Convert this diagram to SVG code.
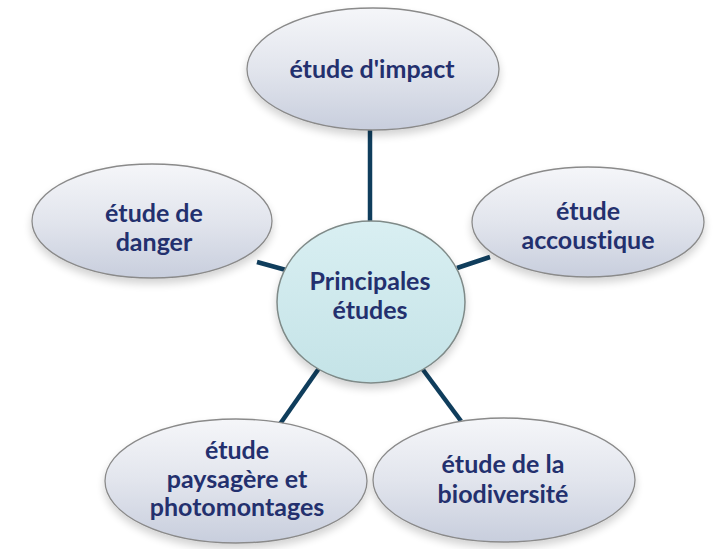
<svg xmlns="http://www.w3.org/2000/svg" width="715" height="549" viewBox="0 0 715 549">
<defs>
<linearGradient id="gOuter" x1="0" y1="0" x2="0" y2="1">
<stop offset="0" stop-color="#f5f6f9"/>
<stop offset="0.5" stop-color="#e2e5ed"/>
<stop offset="1" stop-color="#c8cedd"/>
</linearGradient>
<linearGradient id="gCenter" x1="0" y1="0" x2="0" y2="1">
<stop offset="0" stop-color="#d9eff2"/>
<stop offset="1" stop-color="#c4e3e7"/>
</linearGradient>
<filter id="sh" x="-20%" y="-20%" width="140%" height="150%">
<feGaussianBlur in="SourceAlpha" stdDeviation="4"/>
<feOffset dx="0" dy="5" result="b"/>
<feComponentTransfer><feFuncA type="linear" slope="0.18"/></feComponentTransfer>
<feMerge><feMergeNode/><feMergeNode in="SourceGraphic"/></feMerge>
</filter>
</defs>
<style>
.outer{fill:url(#gOuter);stroke:#8a8a8a;stroke-width:1.3;filter:url(#sh)}
.center{fill:url(#gCenter);stroke:#7f8a88;stroke-width:1.5;filter:url(#sh)}
.lbl{font-family:Lato,"Open Sans","Liberation Sans",sans-serif;font-weight:bold;font-size:25px;fill:#23306e;text-anchor:middle;font-variant-ligatures:none;font-feature-settings:"liga" 0}
.conn{stroke:#0f3d5c;stroke-width:4.5;stroke-linecap:butt;fill:none}
</style>
<rect width="715" height="549" fill="#ffffff"/>
<g id="connectors">
<line class="conn" x1="370" y1="130" x2="370" y2="223"/>
<line class="conn" x1="257" y1="262" x2="286" y2="270"/>
<line class="conn" x1="457" y1="268" x2="490" y2="257"/>
<line class="conn" x1="322" y1="364" x2="280" y2="424"/>
<line class="conn" x1="418" y1="363" x2="461" y2="421"/>
</g>
<g id="node-impact">
<ellipse class="outer" cx="373" cy="69" rx="126" ry="61"/>
<text class="lbl" x="372" y="78">étude d'impact</text>
</g>
<g id="node-danger">
<ellipse class="outer" cx="152" cy="221" rx="120" ry="57"/>
<text class="lbl" x="154" y="222">étude de</text>
<text class="lbl" x="154" y="251">danger</text>
</g>
<g id="node-acoustique">
<ellipse class="outer" cx="588" cy="222" rx="116" ry="55"/>
<text class="lbl" x="588" y="220">étude</text>
<text class="lbl" x="588" y="249">accoustique</text>
</g>
<g id="node-paysage">
<ellipse class="outer" cx="236" cy="481" rx="131" ry="62"/>
<text class="lbl" x="237" y="459">étude</text>
<text class="lbl" x="237" y="488">paysagère et</text>
<text class="lbl" x="237" y="516">photomontages</text>
</g>
<g id="node-biodiversite">
<ellipse class="outer" cx="504" cy="480" rx="131" ry="62"/>
<text class="lbl" x="503" y="473">étude de la</text>
<text class="lbl" x="503" y="503">biodiversité</text>
</g>
<g id="node-center">
<ellipse class="center" cx="371" cy="302" rx="94" ry="81"/>
<text class="lbl" x="370" y="290">Principales</text>
<text class="lbl" x="370" y="319">études</text>
</g>
</svg>
